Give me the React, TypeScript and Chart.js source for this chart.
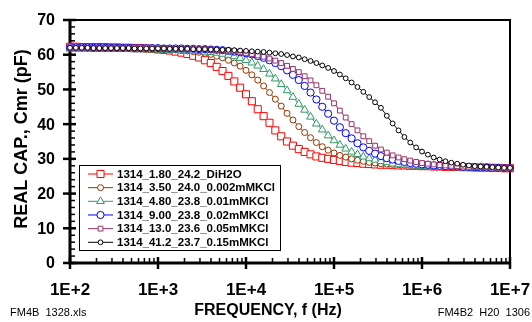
import React, { useEffect, useRef } from "react";
import { Chart, registerables } from "chart.js";
import { drawPoint } from "chart.js/helpers";

Chart.register(...registerables);

// Sweep frequencies: 15 points per decade from 1E+2 to 1E+7
const DECADE_STEPS = [1, 1.166, 1.359, 1.585, 1.848, 2.154, 2.512, 2.929, 3.415, 3.981, 4.642, 5.412, 6.31, 7.356, 8.577];
const DECADES = [1e2, 1e3, 1e4, 1e5, 1e6];
const LAST_FREQ = 1e7;
const FREQ = [...DECADES.flatMap((d) => DECADE_STEPS.map((s) => d * s)), LAST_FREQ];

const X_TICKS = [1e2, 1e3, 1e4, 1e5, 1e6, 1e7];
const X_TICK_LABELS = ["1E+2", "1E+3", "1E+4", "1E+5", "1E+6", "1E+7"];
const Y_TICKS = [0, 10, 20, 30, 40, 50, 60, 70];

const NAMES = [
  "1314_1.80_24.2_DiH2O",
  "1314_3.50_24.0_0.002mMKCl",
  "1314_4.80_23.8_0.01mMKCl",
  "1314_9.00_23.8_0.02mMKCl",
  "1314_13.0_23.6_0.05mMKCl",
  "1314_41.2_23.7_0.15mMKCl",
];

const RED = [
  62.3, 62.3, 62.2, 62.2, 62.2, 62.2, 62.2, 62.1, 62.1, 62.0,
  62.0, 61.9, 61.9, 61.8, 61.7, 61.5, 61.4, 61.2, 60.9, 60.6,
  60.2, 59.7, 59.2, 58.4, 57.6, 56.5, 55.3, 53.9, 52.3, 50.5,
  48.6, 46.6, 44.3, 42.3, 40.4, 38.2, 36.5, 35.0, 33.8, 32.8,
  32.0, 31.3, 30.7, 30.3, 30.0, 29.7, 29.4, 29.1, 28.9, 28.8,
  28.6, 28.5, 28.4, 28.3, 28.3, 28.2, 28.1, 28.1, 28.0, 28.0,
  27.9, 27.9, 27.8, 27.8, 27.7, 27.7, 27.7, 27.6, 27.6, 27.5,
  27.5, 27.5, 27.4, 27.4, 27.3, 27.3,
];
const BROWN = [
  62.0, 62.0, 62.0, 61.9, 61.9, 61.9, 61.9, 61.9, 61.9, 61.8,
  61.8, 61.8, 61.7, 61.7, 61.7, 61.6, 61.5, 61.5, 61.4, 61.2,
  61.1, 60.9, 60.7, 60.4, 60.1, 59.6, 59.1, 58.4, 57.6, 56.7,
  55.5, 54.2, 52.7, 51.0, 49.1, 47.2, 45.2, 43.1, 41.2, 39.3,
  37.6, 36.1, 34.7, 33.5, 32.5, 31.7, 31.0, 30.5, 30.0, 29.6,
  29.3, 29.0, 28.8, 28.6, 28.5, 28.4, 28.3, 28.2, 28.1, 28.0,
  28.0, 27.9, 27.8, 27.8, 27.7, 27.7, 27.6, 27.6, 27.5, 27.5,
  27.5, 27.4, 27.4, 27.3, 27.3, 27.3,
];
const GREEN = [
  61.7, 61.7, 61.7, 61.7, 61.6, 61.6, 61.6, 61.6, 61.6, 61.6,
  61.6, 61.5, 61.5, 61.5, 61.4, 61.4, 61.4, 61.3, 61.3, 61.2,
  61.2, 61.1, 61.0, 60.8, 60.7, 60.5, 60.2, 59.9, 59.5, 59.0,
  58.4, 57.7, 56.8, 55.8, 54.5, 53.1, 51.5, 49.7, 47.8, 45.8,
  44.1, 42.1, 40.1, 38.4, 36.7, 35.3, 34.0, 32.9, 32.0, 31.3,
  30.6, 30.1, 29.7, 29.3, 29.0, 28.6, 28.4, 28.3, 28.1, 28.0,
  27.9, 27.8, 27.8, 27.7, 27.6, 27.6, 27.5, 27.5, 27.4, 27.4,
  27.3, 27.3, 27.2, 27.2, 27.1, 27.1,
];
const BLUE = [
  62.1, 62.1, 62.1, 62.1, 62.0, 62.0, 62.0, 62.0, 62.0, 62.0,
  62.0, 61.9, 61.9, 61.9, 61.9, 61.9, 61.8, 61.8, 61.8, 61.8,
  61.7, 61.7, 61.6, 61.6, 61.5, 61.4, 61.3, 61.1, 60.9, 60.7,
  60.4, 60.1, 59.6, 59.1, 58.4, 57.6, 56.7, 55.5, 54.2, 52.7,
  51.0, 49.1, 47.1, 45.0, 43.0, 41.0, 39.1, 37.4, 35.9, 34.5,
  33.3, 32.3, 31.5, 30.8, 30.2, 29.8, 29.4, 29.1, 28.8, 28.6,
  28.4, 28.3, 28.1, 28.0, 27.9, 27.9, 27.8, 27.7, 27.6, 27.6,
  27.5, 27.5, 27.4, 27.4, 27.3, 27.3,
];
const PURPLE = [
  62.0, 62.0, 62.0, 62.0, 61.9, 61.9, 61.9, 61.9, 61.9, 61.9,
  61.9, 61.8, 61.8, 61.8, 61.8, 61.8, 61.8, 61.7, 61.7, 61.7,
  61.7, 61.6, 61.6, 61.6, 61.5, 61.4, 61.3, 61.1, 61.0, 60.8,
  60.5, 60.2, 59.8, 59.4, 58.9, 58.3, 57.6, 56.8, 55.9, 55.0,
  53.8, 52.6, 51.2, 49.6, 47.9, 46.0, 43.9, 41.9, 40.0, 38.2,
  36.5, 35.1, 33.8, 32.7, 31.8, 31.0, 30.4, 29.9, 29.5, 29.1,
  28.8, 28.6, 28.4, 28.2, 28.1, 28.0, 27.9, 27.8, 27.7, 27.6,
  27.6, 27.5, 27.5, 27.4, 27.4, 27.3,
];
const BLACK = [
  62.0, 62.0, 62.0, 62.0, 61.9, 61.9, 61.9, 61.9, 61.9, 61.9,
  61.9, 61.8, 61.8, 61.8, 61.8, 61.8, 61.8, 61.7, 61.7, 61.7,
  61.7, 61.6, 61.6, 61.6, 61.5, 61.5, 61.4, 61.4, 61.3, 61.2,
  61.1, 61.0, 60.9, 60.8, 60.6, 60.4, 60.2, 59.9, 59.5, 59.2,
  58.7, 58.2, 57.6, 56.9, 56.2, 55.3, 54.3, 53.2, 52.0, 50.7,
  49.3, 47.8, 46.3, 44.7, 42.4, 40.2, 38.2, 36.3, 34.7, 33.3,
  32.1, 31.2, 30.4, 29.8, 29.3, 28.9, 28.6, 28.3, 28.1, 27.9,
  27.8, 27.7, 27.6, 27.5, 27.4, 27.4,
];

const SERIES_VALUES = [RED, BROWN, GREEN, BLUE, PURPLE, BLACK];
const COLORS = ["#FF0000", "#993300", "#339966", "#0000FF", "#993366", "#000000"];
const POINT_STYLES = ["rect", "circle", "triangle", "circle", "rect", "circle"];
const POINT_RADII = [5, 3, 4.5, 3.6, 3.4, 2.4];

const FONT = 'Arial, "Liberation Sans", sans-serif';

const framePlugin = {
  id: "frame",
  beforeDatasetsDraw(chart: any) {
    const { ctx, chartArea, scales } = chart;
    const { left, right, top, bottom } = chartArea;
    const x = scales.x;
    const y = scales.y;
    ctx.save();
    ctx.strokeStyle = "#000";
    ctx.fillStyle = "#000";
    // minor y ticks (inside)
    ctx.lineWidth = 1.5;
    for (let v = 2; v < 70; v += 2) {
      if (v % 10 === 0) continue;
      const py = y.getPixelForValue(v);
      ctx.beginPath();
      ctx.moveTo(left, py);
      ctx.lineTo(left + 5, py);
      ctx.stroke();
    }
    // major y ticks
    ctx.lineWidth = 2.5;
    for (const v of Y_TICKS) {
      const py = y.getPixelForValue(v);
      ctx.beginPath();
      ctx.moveTo(left - 7, py);
      ctx.lineTo(left + 6, py);
      ctx.stroke();
    }
    // minor x ticks
    ctx.lineWidth = 1.5;
    for (const d of DECADES) {
      for (let m = 2; m <= 9; m++) {
        const px = x.getPixelForValue(d * m);
        ctx.beginPath();
        ctx.moveTo(px, bottom - 5);
        ctx.lineTo(px, bottom);
        ctx.stroke();
      }
    }
    // major x ticks
    ctx.lineWidth = 2.5;
    for (const v of X_TICKS) {
      const px = x.getPixelForValue(v);
      ctx.beginPath();
      ctx.moveTo(px, bottom - 6);
      ctx.lineTo(px, bottom + 6);
      ctx.stroke();
    }
    // frame
    ctx.lineWidth = 2;
    ctx.beginPath();
    ctx.moveTo(left, top);
    ctx.lineTo(right, top);
    ctx.lineTo(right, bottom);
    ctx.stroke();
    ctx.lineWidth = 3;
    ctx.beginPath();
    ctx.moveTo(left, top - 1);
    ctx.lineTo(left, bottom);
    ctx.lineTo(right + 1, bottom);
    ctx.stroke();

    // y tick labels
    ctx.font = `bold 16px ${FONT}`;
    ctx.textAlign = "right";
    ctx.textBaseline = "middle";
    for (const v of Y_TICKS) {
      ctx.fillText(String(v), 55, y.getPixelForValue(v) + 1);
    }
    // x tick labels
    ctx.font = `bold 17px ${FONT}`;
    ctx.textAlign = "center";
    X_TICKS.forEach((v, i) => {
      ctx.fillText(X_TICK_LABELS[i], x.getPixelForValue(v), 290);
    });
    // axis titles
    ctx.font = `bold 16px ${FONT}`;
    ctx.fillText("FREQUENCY, f (Hz)", 268, 311);
    ctx.save();
    ctx.translate(22, 139);
    ctx.rotate(-Math.PI / 2);
    ctx.font = `bold 18px ${FONT}`;
    ctx.fillText("REAL CAP., Cmr (pF)", 0, 0);
    ctx.restore();
    // footers
    ctx.font = `11px ${FONT}`;
    ctx.textAlign = "left";
    ctx.fillText("FM4B  1328.xls", 10, 313);
    ctx.textAlign = "right";
    ctx.fillText("FM4B2  H20  1306", 530, 313);
    ctx.restore();
  },
  afterDraw(chart: any) {
    const { ctx } = chart;
    ctx.save();
    const bx = 79, by = 165, bw = 201, bh = 85;
    ctx.fillStyle = "#fff";
    ctx.fillRect(bx, by, bw, bh);
    ctx.strokeStyle = "#000";
    ctx.lineWidth = 1;
    ctx.strokeRect(bx + 0.5, by + 0.5, bw, bh);
    NAMES.forEach((name, i) => {
      const cy = 174 + i * 13.66;
      ctx.strokeStyle = COLORS[i];
      ctx.lineWidth = 1;
      ctx.beginPath();
      ctx.moveTo(88, cy);
      ctx.lineTo(113, cy);
      ctx.stroke();
      ctx.fillStyle = "#fff";
      drawPoint(ctx, { pointStyle: POINT_STYLES[i], radius: POINT_RADII[i], rotation: 0, borderWidth: 1 } as any, 100.5, cy);
      ctx.fillStyle = "#000";
      ctx.font = `bold 11.5px ${FONT}`;
      ctx.textAlign = "left";
      ctx.textBaseline = "middle";
      ctx.fillText(name, 117, cy + 0.5);
    });
    ctx.restore();
  },
};

export default function App() {
  const ref = useRef<HTMLCanvasElement>(null);
  useEffect(() => {
    const canvas = ref.current;
    if (!canvas) return;
    const chart = new Chart(canvas, {
      type: "line",
      data: {
        datasets: SERIES_VALUES.map((vals, idx) => ({
          label: NAMES[idx],
          data: FREQ.map((f, i) => ({ x: f, y: vals[i] })),
          borderColor: COLORS[idx],
          backgroundColor: "#ffffff",
          pointBackgroundColor: "#ffffff",
          pointBorderColor: COLORS[idx],
          pointStyle: POINT_STYLES[idx] as any,
          pointRadius: POINT_RADII[idx],
          pointBorderWidth: 1,
          borderWidth: 1,
          tension: 0,
          clip: false as any,
          order: 5 - idx,
        })),
      },
      options: {
        responsive: false,
        animation: false,
        devicePixelRatio: 1,
        layout: { padding: { top: 20, right: 22, left: 0, bottom: 0 } },
        plugins: { legend: { display: false }, tooltip: { enabled: false } },
        scales: {
          x: {
            type: "logarithmic",
            min: 100,
            max: 1e7,
            grid: { display: false, drawTicks: false },
            border: { display: false },
            ticks: { display: false },
            afterFit: (s: any) => {
              s.height = 59;
            },
          },
          y: {
            type: "linear",
            min: 0,
            max: 70,
            grid: { display: false, drawTicks: false },
            border: { display: false },
            ticks: { display: false },
            afterFit: (s: any) => {
              s.width = 70;
            },
          },
        },
      },
      plugins: [framePlugin],
    });
    return () => chart.destroy();
  }, []);
  return (
    <div style={{ position: "fixed", left: 0, top: 0, width: 532, height: 322, background: "#fff" }}>
      <canvas ref={ref} width={532} height={322} style={{ display: "block" }} />
    </div>
  );
}
